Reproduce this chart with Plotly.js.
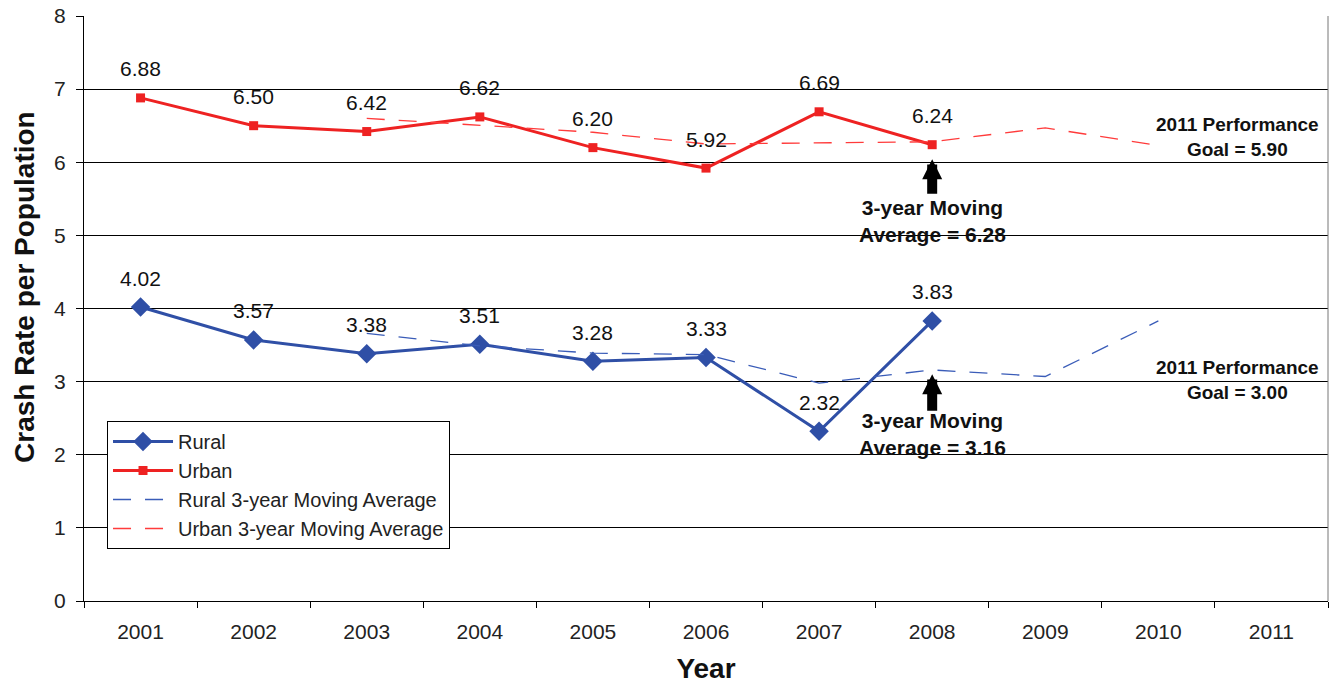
<!DOCTYPE html>
<html>
<head>
<meta charset="utf-8">
<script src="https://cdn.plot.ly/plotly-3.0.1.min.js"></script>
<style>html,body{margin:0;padding:0;background:#fff;}#chart{width:1332px;height:684px;}</style>
</head>
<body>
<div id="chart"></div>
<script>
const years = ["2001","2002","2003","2004","2005","2006","2007","2008","2009","2010","2011"];
const ruralYears = ["2001","2002","2003","2004","2005","2006","2007","2008"];
const rural = [4.02, 3.57, 3.38, 3.51, 3.28, 3.33, 2.32, 3.83];
const urban = [6.88, 6.50, 6.42, 6.62, 6.20, 5.92, 6.69, 6.24];
const maYears = ["2003","2004","2005","2006","2007","2008","2009","2010"];
const ruralMA = [3.66, 3.49, 3.39, 3.37, 2.98, 3.16, 3.07, 3.83];
const urbanMA = [6.60, 6.51, 6.41, 6.25, 6.27, 6.28, 6.47, 6.23];
const labelsRural = ["4.02","3.57","3.38","3.51","3.28","3.33","2.32","3.83"];
const labelsUrban = ["6.88","6.50","6.42","6.62","6.20","5.92","6.69","6.24"];

const FONT = "Liberation Sans, Arial, sans-serif";
const BLUE = "#2f4fa6";
const RED = "#ee2222";

const traces = [
  {x: ruralYears, y: rural, name: "Rural", mode: "lines+markers",
   line: {color: BLUE, width: 3}, marker: {symbol: "diamond", size: 15, color: BLUE}},
  {x: ruralYears, y: urban, name: "Urban", mode: "lines+markers",
   line: {color: RED, width: 3}, marker: {symbol: "square", size: 9, color: RED}},
  {x: maYears, y: ruralMA, name: "Rural 3-year Moving Average", mode: "lines",
   line: {color: "#3a5cb8", width: 1.3, dash: "18px,14px"}},
  {x: maYears, y: urbanMA, name: "Urban 3-year Moving Average", mode: "lines",
   line: {color: "#ff3b3b", width: 1.3, dash: "18px,14px"}}
];

const annotations = [];
ruralYears.forEach((yr, i) => {
  annotations.push({x: i, y: rural[i], text: labelsRural[i], showarrow: false,
    yanchor: "middle", yshift: 29, font: {family: FONT, size: 21, color: "#111"}});
  annotations.push({x: i, y: urban[i], text: labelsUrban[i], showarrow: false,
    yanchor: "middle", yshift: 29, font: {family: FONT, size: 21, color: "#111"}});
});
const goalFont = {family: FONT, size: 19, color: "#111"};
const avgFont = {family: FONT, size: 21, color: "#111"};
annotations.push(
  {x: 9.7, y: 6.34, text: "<b>2011 Performance</b><br><b>Goal = 5.90</b>", showarrow: false, font: goalFont, align: "center"},
  {x: 9.7, y: 3.02, text: "<b>2011 Performance</b><br><b>Goal = 3.00</b>", showarrow: false, font: goalFont, align: "center"},
  {x: 7, y: 5.19, text: "<b>3-year Moving</b><br><b>Average = 6.28</b>", showarrow: false, font: avgFont, align: "center"},
  {x: 7, y: 2.28, text: "<b>3-year Moving</b><br><b>Average = 3.16</b>", showarrow: false, font: avgFont, align: "center"},
  {x: 7, y: 6.04, ax: 0, ay: 36, text: "", showarrow: true, arrowhead: 2, arrowwidth: 10, arrowsize: 0.4, arrowcolor: "#000", standoff: 0, startstandoff: 0},
  {x: 7, y: 3.10, ax: 0, ay: 38, text: "", showarrow: true, arrowhead: 2, arrowwidth: 10, arrowsize: 0.4, arrowcolor: "#000", standoff: 0, startstandoff: 0},
  {xref: "paper", yref: "paper", x: -0.0474, y: 0.537, xanchor: "center", yanchor: "middle",
   textangle: -90, showarrow: false, text: "<b>Crash Rate per Population</b>",
   font: {family: FONT, size: 28, color: "#111"}}
);

const layout = {
  width: 1332, height: 684,
  margin: {l: 84, r: 4, t: 16, b: 83},
  paper_bgcolor: "#fff", plot_bgcolor: "#fff",
  font: {family: FONT, color: "#222"},
  showlegend: true,
  legend: {x: 0.0185, y: 0.3077, xanchor: "left", yanchor: "top",
    bgcolor: "#fff", bordercolor: "#000", borderwidth: 1, itemwidth: 60,
    font: {family: FONT, size: 20, color: "#222"}, tracegroupgap: 0},
  xaxis: {type: "category", categoryarray: years, categoryorder: "array",
    range: [-0.5, 10.5], tickson: "boundaries", ticks: "outside", ticklen: 6, tickcolor: "#000",
    showline: true, linecolor: "#000", linewidth: 1, showgrid: false, zeroline: false,
    ticklabelstandoff: 12,
    tickfont: {family: FONT, size: 21, color: "#222"},
    title: {text: "<b>Year</b>", font: {family: FONT, size: 28, color: "#111"}, standoff: 16}},
  yaxis: {range: [0, 8], dtick: 1, ticks: "outside", ticklen: 7, tickcolor: "#000",
    showline: true, linecolor: "#000", linewidth: 1, mirror: false,
    showgrid: true, gridcolor: "#000", gridwidth: 1, zeroline: false,
    ticklabelstandoff: 6,
    tickfont: {family: FONT, size: 21, color: "#222"}},
  annotations: annotations,
  shapes: [{type: "line", xref: "paper", yref: "paper", x0: 1, x1: 1, y0: 0, y1: 1, line: {color: "#777", width: 1}}]
};

Plotly.newPlot("chart", traces, layout, {displayModeBar: false, staticPlot: true});
</script>
</body>
</html>
